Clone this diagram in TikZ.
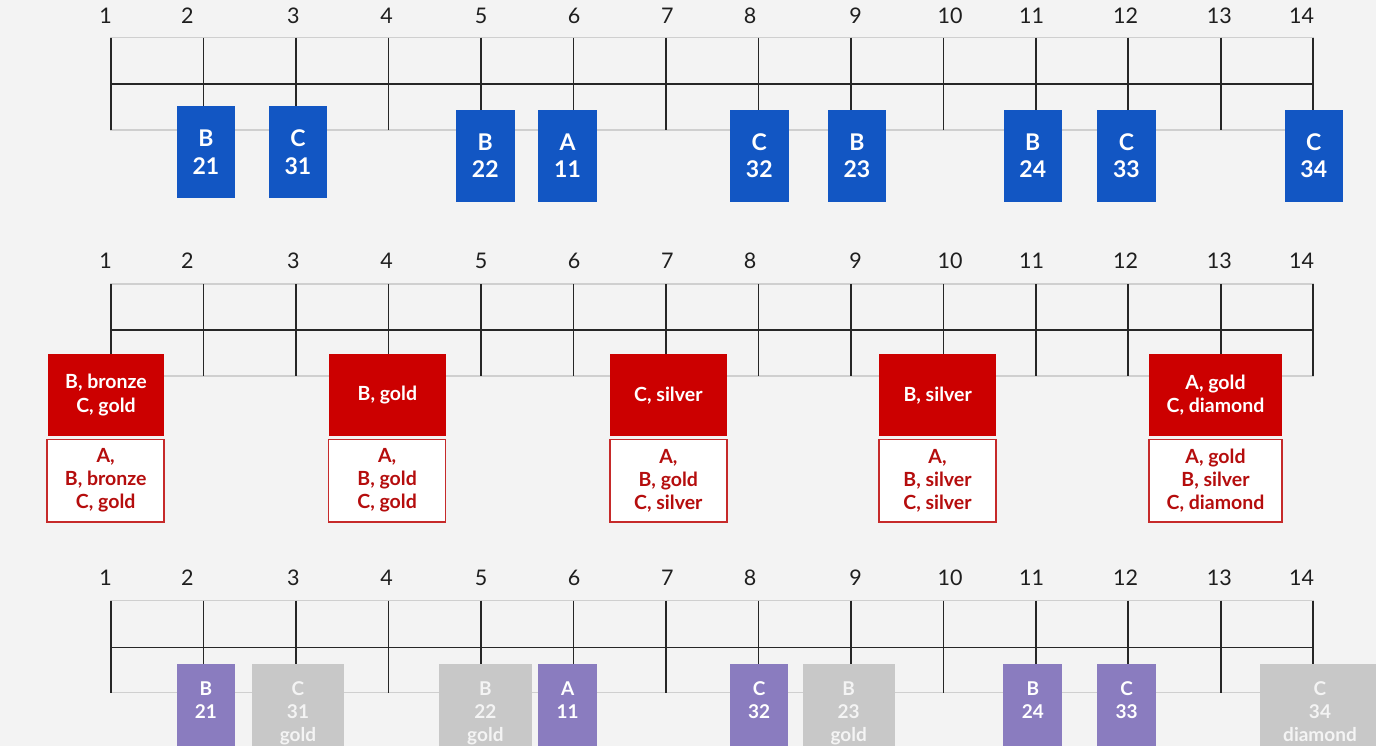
\documentclass[tikz,border=0pt]{standalone}
\usepackage{fontspec}
\setmainfont{Lato}
\definecolor{bg}{HTML}{F3F3F3}
\definecolor{framegray}{HTML}{CFCFCF}
\definecolor{linecol}{HTML}{262626}
\definecolor{numcol}{HTML}{1E1E1E}
\definecolor{blueA}{HTML}{1256C3}
\definecolor{redA}{HTML}{CC0000}
\definecolor{redT}{HTML}{B50D0D}
\definecolor{redB}{HTML}{C62A2A}
\definecolor{purpleA}{HTML}{8A7CBF}
\definecolor{grayA}{HTML}{C8C8C8}
\definecolor{grayT}{HTML}{F4F4F4}
\begin{document}
\begin{tikzpicture}[x=1pt,y=-1pt,
  frame/.style={draw=framegray,line width=1.5pt},
  axis/.style={draw=linecol,line width=1.6pt},
  num/.style={font=\fontsize{21.5}{24}\selectfont,text=numcol,inner sep=0pt},
  boxbase/.style={inner sep=0pt,outer sep=0pt,anchor=north west,align=center},
  bluebox/.style={boxbase,fill=blueA,text=white,font=\bfseries\fontsize{23}{27.5}\selectfont,minimum width=58.5pt,minimum height=92.3pt},
  redbox/.style={boxbase,fill=redA,text=white,font=\bfseries\fontsize{19.5}{23.3}\selectfont,minimum height=81.7pt},
  whitebox/.style={boxbase,fill=white,draw=redB,line width=1.5pt,text=redT,font=\bfseries\fontsize{19.5}{23}\selectfont,minimum height=82.4pt},
  purplebox/.style={boxbase,fill=purpleA,minimum height=96pt},
  graybox/.style={boxbase,fill=grayA,minimum height=96pt},
  ptext/.style={inner sep=0pt,anchor=north,align=center,text=white,font=\bfseries\fontsize{19}{23}\selectfont},
  gtext/.style={ptext,text=grayT}
]
\useasboundingbox (0,0) rectangle (1376,746);
\clip (0,0) rectangle (1376,746);
\fill[bg] (0,0) rectangle (1376,746);

% ---------- frames, axis coordinates ----------
\foreach \r/\yt/\ym/\yb in {a/37.7/84/130, b/284/330/376, c/600.7/647.3/692.7} {
  \foreach \i in {1,...,14} {
    \coordinate (\r t\i) at ({111+(\i-1)*92.48},\yt);
    \coordinate (\r b\i) at ({111+(\i-1)*92.48},\yb);
  }
  \coordinate (\r mL) at (111,\ym);
  \coordinate (\r mR) at (1313.2,\ym);
  \draw[frame] (\r t1) rectangle (\r b14);
  \draw[axis] (\r mL) -- (\r mR);
}

% ---------- number labels ----------
\foreach \r/\y in {a/16, b/260.7, c/578} {
  \foreach \x/\n in {105.7/1, 187.3/2, 293.3/3, 386.7/4, 481/5, 574/6, 667.3/7, 750/8, 855.5/9, 950/10, 1031.7/11, 1125.7/12, 1219.3/13, 1301.7/14} {
    \node[num] (l\r\n) at (\x,\y) {\n};
  }
}

% ---------- row 1 ----------
\node[bluebox] (a21) at (176.7,106)   {B\\21};
\node[bluebox] (a31) at (268.7,106)   {C\\31};
\node[bluebox] (a22) at (456,109.7)   {B\\22};
\node[bluebox] (a11) at (538.3,109.7) {A\\11};
\node[bluebox] (a32) at (730,109.7)   {C\\32};
\node[bluebox] (a23) at (827.7,109.7) {B\\23};
\node[bluebox] (a24) at (1003.5,109.7) {B\\24};
\node[bluebox] (a33) at (1097.2,109.7) {C\\33};
\node[bluebox] (a34) at (1284.5,109.7) {C\\34};

\foreach \i in {1,4,7,10,13} { \draw[axis] (at\i) -- (ab\i); }
\draw[axis] (at2)  -- (at2  |- a21.north);
\draw[axis] (at3)  -- (at3  |- a31.north);
\draw[axis] (at5)  -- (at5  |- a22.north);
\draw[axis] (at6)  -- (at6  |- a11.north);
\draw[axis] (at8)  -- (at8  |- a32.north);
\draw[axis] (at9)  -- (at9  |- a23.north);
\draw[axis] (at11) -- (at11 |- a24.north);
\draw[axis] (at12) -- (at12 |- a33.north);
\draw[axis] (at14) -- (at14 |- a34.north);

% ---------- row 2 ----------
\node[redbox,minimum width=116.6pt] (r1)  at (47.7,354.3)  {B, bronze\\C, gold};
\node[redbox,minimum width=116.7pt] (r4)  at (329,354.3)   {B, gold};
\node[redbox,minimum width=116.7pt] (r7)  at (610,354.3)   {C, silver};
\node[redbox,minimum width=116.7pt] (r10) at (879.3,354.3) {B, silver};
\node[redbox,minimum width=132.4pt] (r13) at (1149.3,354.3) {A, gold\\C, diamond};

\node[whitebox,minimum width=117pt] (w1)  at (47.2,439.5)  {A,\\B, bronze\\C, gold};
\node[whitebox,minimum width=117pt] (w4)  at (328.6,439.5) {A,\\B, gold\\C, gold};
\node[whitebox,minimum width=117pt] (w7)  at (609.8,439.5) {A,\\B, gold\\C, silver};
\node[whitebox,minimum width=117pt] (w10) at (879,439.5)   {A,\\B, silver\\C, silver};
\node[whitebox,minimum width=132.6pt] (w13) at (1149.2,439.5) {A, gold\\B, silver\\C, diamond};

\foreach \i in {2,3,5,6,8,9,11,12,14} { \draw[axis] (bt\i) -- (bb\i); }
\draw[axis] (bt1)  -- (bt1  |- r1.north);
\draw[axis] (bt4)  -- (bt4  |- r4.north);
\draw[axis] (bt7)  -- (bt7  |- r7.north);
\draw[axis] (bt10) -- (bt10 |- r10.north);
\draw[axis] (bt13) -- (bt13 |- r13.north);

% ---------- row 3 ----------
\node[purplebox,minimum width=58.4pt] (c21) at (176.7,664.3)  {};
\node[graybox,minimum width=92.6pt]   (c31) at (251.7,664.3)  {};
\node[graybox,minimum width=92.7pt]   (c22) at (439,664.3)    {};
\node[purplebox,minimum width=58.6pt] (c11) at (538.4,664.3)  {};
\node[purplebox,minimum width=58.3pt] (c32) at (730,664.3)    {};
\node[graybox,minimum width=92pt]     (c23) at (802.7,664.3)  {};
\node[purplebox,minimum width=59pt]   (c24) at (1003.3,664.3) {};
\node[purplebox,minimum width=58.7pt] (c33) at (1097.3,664.3) {};
\node[graybox,minimum width=120pt]    (c34) at (1260,664.3)   {};

\node[ptext] (tc21) at ([yshift=-17pt]c21.north) {B\\21};
\node[gtext] (tc31) at ([yshift=-17pt]c31.north) {C\\31\\gold};
\node[gtext] (tc22) at ([yshift=-17pt]c22.north) {B\\22\\gold};
\node[ptext] (tc11) at ([yshift=-17pt]c11.north) {A\\11};
\node[ptext] (tc32) at ([yshift=-17pt]c32.north) {C\\32};
\node[gtext] (tc23) at ([yshift=-17pt]c23.north) {B\\23\\gold};
\node[ptext] (tc24) at ([yshift=-17pt]c24.north) {B\\24};
\node[ptext] (tc33) at ([yshift=-17pt]c33.north) {C\\33};
\node[gtext] (tc34) at ([yshift=-17pt]c34.north) {C\\34\\diamond};

\foreach \i in {1,4,7,10,13} { \draw[axis] (ct\i) -- (cb\i); }
\draw[axis] (ct2)  -- (ct2  |- c21.north);
\draw[axis] (ct3)  -- (ct3  |- c31.north);
\draw[axis] (ct5)  -- (ct5  |- c22.north);
\draw[axis] (ct6)  -- (ct6  |- c11.north);
\draw[axis] (ct8)  -- (ct8  |- c32.north);
\draw[axis] (ct9)  -- (ct9  |- c23.north);
\draw[axis] (ct11) -- (ct11 |- c24.north);
\draw[axis] (ct12) -- (ct12 |- c33.north);
\draw[axis] (ct14) -- (ct14 |- c34.north);
\end{tikzpicture}
\end{document}
